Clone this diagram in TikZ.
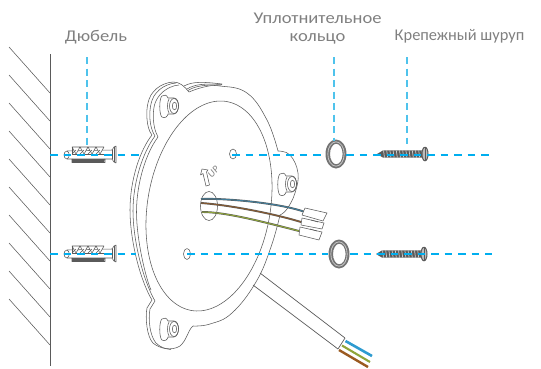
\documentclass[tikz,border=0pt]{standalone}
\usepackage{fontspec}
\setmainfont{Carlito}
\newfontfamily\widelab[FakeStretch=1.13]{Carlito}
\definecolor{ink}{HTML}{5A5A5A}
\definecolor{guide}{HTML}{00AEEF}
\definecolor{guidev}{HTML}{4FC3EC}
\definecolor{lab}{HTML}{808080}
\definecolor{wblue}{HTML}{2E9BD0}
\definecolor{wgreen}{HTML}{8FA53A}
\definecolor{wbrown}{HTML}{9A5A20}
\tikzset{
  every picture/.append style={line join=round},
  ln/.style={draw=ink,line width=0.55pt},
  wall/.style={draw=ink,line width=0.7pt},
  hguide/.style={draw=guide,line width=1.1pt,dash pattern=on 7.5pt off 6pt},
  vguide/.style={draw=guidev,line width=1.1pt,dash pattern=on 7pt off 4.5pt},
  label/.style={font=\fontsize{16.4}{18.5}\selectfont,text=lab,align=center,inner sep=0pt},
  pics/boss/.style={code={
    \draw[ln,fill=white] (-8,-10) .. controls (-11,-8) and (-11,9) .. (-8,11) .. controls (-5,13) and (-2,10) .. (-2,8) -- (4,8) .. controls (10,7) and (10,-8) .. (4,-8) -- (-2,-8) .. controls (-3,-11) and (-6,-12) .. (-8,-10);
    \draw[ln] (-1,-7) .. controls (-3,-4) and (-3,4) .. (-1,7);
    \draw[ln] (4,0) ellipse (4.5 and 7.5);
    \draw[ln] (4.5,0) ellipse (2.2 and 3.8);
  }},
  pics/dowel/.style={code={
    \draw[ln,fill=white] (-21,-4) .. controls (-25,-4) and (-25,4) .. (-21,4) -- (-16,4) -- (-16,7.5) -- (17,7.5) -- (17,4) -- (24,4) -- (26,7) -- (28,8) -- (28,-9) -- (26,-8) -- (24,-5) -- (-21,-4);
    \draw[ln] (-21,-4) .. controls (-18,-2) and (-18,2) .. (-21,4);
    \foreach \i in {0,1,2,3}{
      \draw[ln,fill=white] (-16+8*\i,-8) -- (-8+8*\i,-8) -- (-12+8*\i,-1) -- cycle;
      \draw[ln] (-16+8*\i,-1) -- (-12+8*\i,-5);
    }
    \draw[ln] (-16,-8) -- (-16,-1) -- (17,-1);
    \fill[ink] (-16,3.5) -- (17,3.5) -- (16,7.5) -- (-16,7.5) -- cycle;
    \draw[ln] (24,-5) -- (24,4) (26,-8) -- (26,7);
  }},
  pics/washer/.style={code={
    \fill[ink!85,even odd rule] (0,0) ellipse (10.5 and 14.5) (0.3,0) ellipse (6.3 and 10.3);
    \draw[draw=white!65!ink,line width=0.8pt] (0,0) ellipse (8.2 and 12.2);
  }},
  pics/screw/.style={code={
    \fill[ink] (0,0) -- (6,-3.6) -- (46,-3.6) -- (46,3.6) -- (6,3.6) -- cycle;
    \foreach \i in {0,...,12}{
      \draw[draw=white!70!ink,line width=0.7pt] (6.5+3.2*\i,-3.6) -- (7.5+3.2*\i,3.6);
    }
    \draw[draw=ink,fill=white!60!ink,line width=1pt] (48,0) ellipse (3 and 6.8);
    \draw[draw=ink,line width=0.6pt] (48,-6.5) -- (48,6.5);
  }},
  wire/.style n args={1}{draw=ink,line width=1.9pt,postaction={draw=#1,line width=1pt}}
}
\begin{document}
\begin{tikzpicture}[x=1pt,y=-1pt]
\useasboundingbox (0,0) rectangle (541,368);
% wall
\draw[wall] (50,54) -- (50,366);
\foreach \y in {47,75,103,131,159,187,215,243,271,299}{
  \draw[wall,line width=0.55pt] (9,\y) -- (50,\y+46);
}
% cable
\draw[ln,line width=0.7pt] (260,273) -- (345,338) (253,285) -- (338,349) (345,338) -- (338,349);
\draw[draw=wblue,line width=2.6pt] (345.5,341) -- (372,356);
\draw[draw=wgreen,line width=2.1pt] (342,345.5) -- (370,362);
\draw[draw=wbrown,line width=2.4pt] (339,350) -- (368,367);
% plate outline
\fill[white] (189,92) -- (220,86) -- (267,120) -- (298,173) -- (280,215) -- (256,282) -- (193,326) -- (168,349) -- (130,210) -- (173,82) -- cycle;
\draw[ln] plot[smooth,tension=0.7] coordinates {(189,92) (204,87) (220,86) (247,93) (267,120) (278,151)};
\draw[ln] plot[smooth,tension=0.7] coordinates {(278,151) (290,155) (298,173) (295,193) (287,209) (280,215)};
\draw[ln] plot[smooth,tension=0.7] coordinates {(280,215) (271,247) (256,282) (232,313) (210,324) (193,326)};
\draw[ln] (193,326) .. controls (188,330) and (187,340) .. (180,346)
  .. controls (172,351) and (160,349) .. (153,343)
  .. controls (147,337) and (145,318) .. (147,308)
  -- (152,300) .. controls (140,280) and (130,240) .. (130,210)
  .. controls (130,180) and (140,150) .. (152,135)
  .. controls (146,128) and (146,110) .. (148,103)
  .. controls (150,92) and (160,83) .. (173,82)
  .. controls (180,82) and (184,86) .. (189,92);
% left layers
\draw[ln] (176,83) .. controls (163,84) and (153,93) .. (151,104)
  .. controls (149,112) and (149,127) .. (155,136)
  .. controls (143,152) and (133,182) .. (133,211)
  .. controls (133,240) and (143,280) .. (155,301)
  -- (150,309) .. controls (148,320) and (150,336) .. (156,343) .. controls (160,347) and (165,349) .. (171,349.5);
\draw[ln] (179,85) .. controls (167,86) and (157,95) .. (154.5,105)
  .. controls (152.5,113) and (152.5,127) .. (158,137)
  .. controls (146,153) and (136.5,183) .. (136.5,212)
  .. controls (136.5,240) and (146,279) .. (151,290);
\draw[ln] (187,89) .. controls (195,84) and (205,83.5) .. (222,84.5);
\draw[ln] (188,90.5) .. controls (195,86) and (205,84.5) .. (221,85.2);
\draw[ln] (184,86) .. controls (193,81) and (205,82) .. (222,84);
% inner face
\draw[ln] plot[domain=0:360,samples=72,smooth] ({209+62*cos(\x)-11.5*sin(\x)},{206+105*sin(\x)});
% bosses
\path (170,106) pic {boss};
\path (288,184) pic {boss};
\path (170,329) pic {boss};
% holes
\draw[ln] (233,154) ellipse (3.5 and 5);
\draw[ln] (187,254) ellipse (3.5 and 5.5);
\draw[ln] (209,206) ellipse (8.5 and 14.5);
% UP arrow
\draw[ln] (202,169) -- (208,170) -- (206.5,172) -- (209.5,185) -- (206,186) -- (203,173.5) -- (200.5,175) -- cycle;
\node[font=\fontsize{10}{11}\selectfont\itshape,text=lab,rotate=48,inner sep=0pt] (uptext) at (213.5,172) {UP};
% wires
\draw[wire={wblue!55!ink}] (201,199) .. controls (225,198) and (280,203) .. (305,212);
\draw[wire={wbrown!70!ink}] (201,203) .. controls (230,205) and (275,214) .. (301,222);
\draw[wire={wgreen}] (202,212) .. controls (225,212) and (260,221) .. (299,231);
% connectors
\draw[ln,fill=white] (305,208) -- (327,213) -- (323,221) -- (302,215) -- cycle;
\draw[ln,fill=white] (302,218) -- (324,223) -- (322,229) -- (301,225) -- cycle;
\draw[ln,fill=white] (300,227) -- (322,232) -- (319,240) -- (299,235) -- cycle;
\draw[ln] (311,220) -- (318,222) (310,229) -- (317,231);
% guides
\coordinate (tl) at (50,155); \coordinate (tla) at (139,155);
\coordinate (tr) at (232,155); \coordinate (tre) at (492,155);
\coordinate (bl) at (50,254); \coordinate (bla) at (136,254);
\coordinate (br) at (187,254); \coordinate (bre) at (492,254);
% hardware
\path (88,155) pic {dowel};
\path (88,254) pic {dowel};
\path (336,154) pic {washer};
\path (339,254) pic {washer};
\path (377,154) pic {screw};
\path (376,254) pic {screw};
\draw[hguide] (tl) -- (tla);
\draw[hguide] (tr) -- (325,155);
\draw[hguide] (346,155) -- (tre);
\draw[hguide] (bl) -- (bla);
\draw[hguide] (br) -- (328,254);
\draw[hguide] (350,254) -- (bre);
% labels
\node[label,font=\fontsize{16.4}{18.5}\selectfont\widelab] (dubel) at (96,37) {Дюбель};
\node[label,font=\fontsize{16.4}{18.5}\selectfont\widelab] (ring) at (317.5,28.5) {Уплотнительное\\кольцо};
\node[label] (screwl) at (459.5,36.5) {Крепежный шуруп};
\coordinate (ga) at (87,57); \coordinate (gae) at (87,146);
\coordinate (gb) at (334,57); \coordinate (gbe) at (334,141);
\coordinate (gc) at (407,57); \coordinate (gce) at (407,144);
\draw[vguide] (ga) -- (gae);
\draw[vguide] (gb) -- (gbe);
\draw[vguide] (gc) -- (gce);
\end{tikzpicture}
\end{document}
